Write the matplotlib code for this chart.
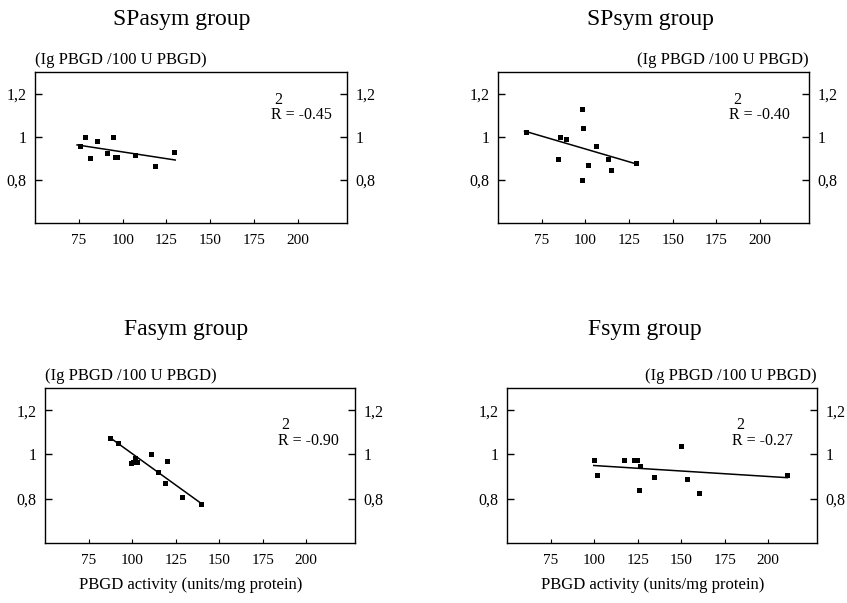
import matplotlib
matplotlib.use("Agg")
import matplotlib.pyplot as plt
import matplotlib.transforms as mtransforms

plt.rcParams['font.family'] = ['Liberation Serif', 'DejaVu Serif']

# SPasym group
spasym_x = [75.4, 78.8, 81.3, 85.1, 91.0, 94.5, 95.8, 96.8, 107.3, 118.6, 129.4]
spasym_y = [0.956, 1.0, 0.901, 0.981, 0.925, 1.0, 0.905, 0.908, 0.914, 0.862, 0.931]
spasym_fit_x = [74, 130]
spasym_fit_y = [0.962, 0.892]

# SPsym group
spsym_x = [66.0, 85.3, 89.1, 84.5, 97.8, 98.7, 98.2, 101.4, 106.1, 112.7, 114.4, 128.9]
spsym_y = [1.023, 1.0, 0.989, 0.899, 1.127, 1.039, 0.799, 0.868, 0.958, 0.899, 0.848, 0.876]
spsym_fit_x = [65.2, 129.5]
spsym_fit_y = [1.026, 0.873]

# Fasym group
fasym_x = [87.5, 92.0, 99.3, 100.8, 101.5, 102.6, 110.9, 119.9, 115.0, 118.9, 128.6, 139.4]
fasym_y = [1.072, 1.053, 0.962, 0.965, 0.982, 0.966, 1.002, 0.970, 0.920, 0.869, 0.806, 0.776]
fasym_fit_x = [88, 140]
fasym_fit_y = [1.072, 0.777]

# Fsym group
fsym_x = [99.8, 101.7, 117.3, 123.2, 124.6, 126.1, 125.6, 134.4, 149.8, 153.1, 160.1, 211.0]
fsym_y = [0.976, 0.905, 0.977, 0.977, 0.977, 0.947, 0.840, 0.897, 1.038, 0.888, 0.825, 0.908]
fsym_fit_x = [99.8, 211.0]
fsym_fit_y = [0.950, 0.895]

titles = ['SPasym group', 'SPsym group', 'Fasym group', 'Fsym group']
r2_labels = ['R = -0.45', 'R = -0.40', 'R = -0.90', 'R = -0.27']
r2_y = [1.10, 1.10, 1.06, 1.06]
r2_xfrac = [0.756, 0.743, 0.75, 0.726]

xticks = [75, 100, 125, 150, 175, 200]
yticks = [0.8, 1.0, 1.2]
ytick_labels = ['0,8', '1', '1,2']
ylabel_text = '(Ig PBGD /100 U PBGD)'
xlabel_text = 'PBGD activity (units/mg protein)'

groups = [(spasym_x, spasym_y, spasym_fit_x, spasym_fit_y),
          (spsym_x, spsym_y, spsym_fit_x, spsym_fit_y),
          (fasym_x, fasym_y, fasym_fit_x, fasym_fit_y),
          (fsym_x, fsym_y, fsym_fit_x, fsym_fit_y)]

W, H = 847, 603
fig = plt.figure(figsize=(W / 100, H / 100), dpi=100)

# panel boxes in pixels: left, right, top, bottom
boxes = [(35, 347, 72, 223), (498, 809, 72, 223),
         (45, 355, 388, 543), (507, 817, 388, 543)]
title_cx = [182, 650, 186, 645]
title_cy = [19, 19, 330, 330]

for i in range(4):
    l, r, t, b = boxes[i]
    ax = fig.add_axes([l / W, 1 - b / H, (r - l) / W, (b - t) / H])
    gx, gy, fx, fy = groups[i]
    ax.plot(gx, gy, 's', color='black', markersize=3.6, markeredgewidth=0)
    ax.plot(fx, fy, '-', color='black', linewidth=1.1)
    ax.set_xlim(50, 228)
    ax.set_ylim(0.6, 1.3)
    ax.set_xticks(xticks)
    ax.set_xticklabels([str(v) for v in xticks], fontsize=11)
    ax.set_yticks(yticks)
    ax.set_yticklabels(ytick_labels, fontsize=11.5)
    ax.tick_params(axis='y', direction='in', length=5, width=1, left=True, right=True,
                   labelleft=True, labelright=True, pad=6)
    ax.tick_params(axis='x', direction='in', length=3, width=0.8, pad=8)
    for s in ax.spines.values():
        s.set_linewidth(1.0)

    trans = mtransforms.blended_transform_factory(ax.transAxes, ax.transData)
    ax.text(r2_xfrac[i], r2_y[i], r2_labels[i], transform=trans, fontsize=11.5,
            ha='left', va='center')
    ax.text(r2_xfrac[i] + 0.025, r2_y[i] + 0.072, '2', transform=trans, fontsize=11.5,
            ha='center', va='center')

    # y unit label above the box
    if i % 2 == 0:
        fig.text(l / W, 1 - (t - 12) / H, ylabel_text, fontsize=12, ha='left', va='center')
    else:
        fig.text(r / W, 1 - (t - 12) / H, ylabel_text, fontsize=12, ha='right', va='center')

    fig.text(title_cx[i] / W, 1 - title_cy[i] / H, titles[i], fontsize=17,
             ha='center', va='center')

    if i >= 2:
        ax.text(0.47, -0.27, xlabel_text, transform=ax.transAxes, fontsize=12,
                ha='center', va='center')

fig.savefig('out.png', dpi=100)
